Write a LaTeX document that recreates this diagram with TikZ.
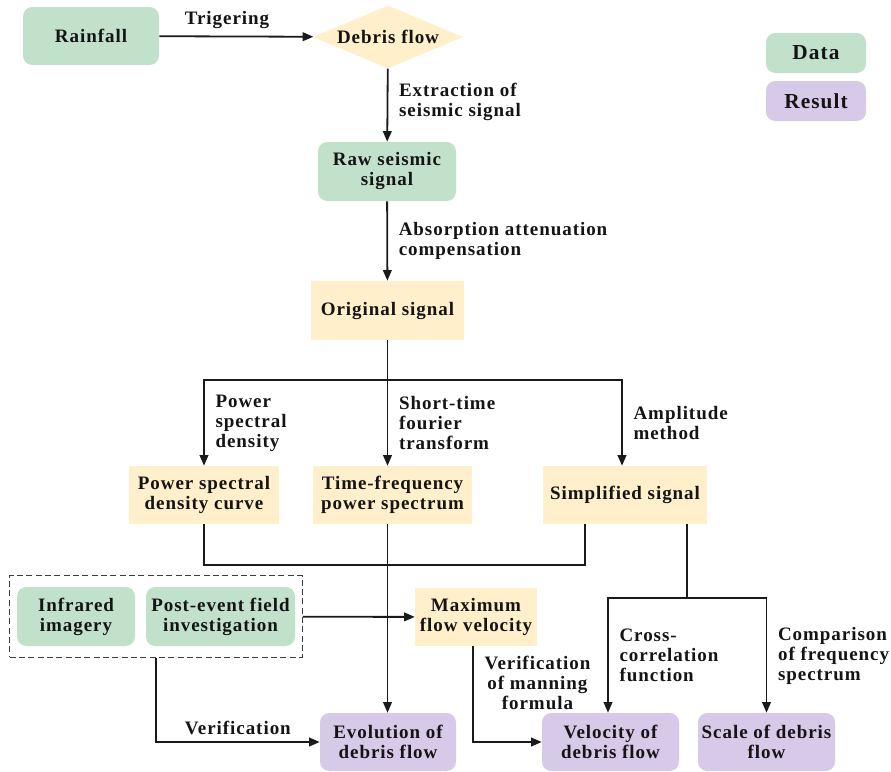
\documentclass[tikz,border=0pt]{standalone}
\usepackage{fontspec}
\setmainfont{Liberation Serif}[LetterSpace=5]
\usetikzlibrary{arrows.meta, positioning, shapes.geometric, fit, calc}
\definecolor{datafill}{HTML}{C2E1CB}
\definecolor{procfill}{HTML}{FFEFCA}
\definecolor{resfill}{HTML}{D7C9E8}
\definecolor{textcol}{HTML}{141414}
\definecolor{lineclr}{HTML}{1A1A1A}
\newcommand{\boxfont}{\bfseries\fontsize{14.25}{15}\selectfont}
\newcommand{\legfont}{\bfseries\fontsize{16}{18}\selectfont}
\tikzset{
  datablk/.style = {rectangle, rounded corners=7pt, fill=datafill, align=center,
                    font=\boxfont, text=textcol, inner sep=2pt},
  procblk/.style = {rectangle, fill=procfill, align=center,
                    font=\boxfont, text=textcol, inner sep=2pt},
  resblk/.style  = {rectangle, rounded corners=7pt, fill=resfill, align=center,
                    font=\boxfont, text=textcol, inner sep=2pt},
  eventblk/.style= {diamond, aspect=2.4, fill=procfill, font=\boxfont,
                    text=textcol, inner sep=0pt},
  grpbox/.style  = {rectangle, draw=lineclr!85, dash pattern=on 4.5pt off 2.5pt,
                    line width=1pt, inner xsep=5.25pt, inner ysep=8.25pt},
  lbl/.style     = {font=\boxfont, text=textcol, align=left, inner sep=0pt},
  flow/.style    = {-{Triangle[length=8pt,width=6.5pt]}, line width=1.35pt, draw=lineclr},
  link/.style    = {line width=1.35pt, draw=lineclr},
}

\begin{document}
\begin{tikzpicture}[x=0.75pt, y=-0.75pt]
        \useasboundingbox (0,0) rectangle (891,771);
        % blocks
        \node[datablk,  minimum width=102pt,    minimum height=43.5pt]  (rain)   at (91,36)      {Rainfall};
        \node[eventblk, minimum width=112.5pt,  minimum height=47.25pt] (debris) at (388,37)     {Debris flow};
        \node[datablk,  minimum width=103.5pt,  minimum height=44.25pt] (raw)    at (387,171.5)  {Raw seismic\\signal};
        \node[procblk,  minimum width=114.75pt, minimum height=44.25pt] (orig)   at (387.5,310.5){Original signal};
        \node[procblk,  minimum width=112.5pt,  minimum height=43.5pt]  (psd)    at (204,495)    {Power spectral\\density curve};
        \node[procblk,  minimum width=119.25pt, minimum height=43.5pt]  (tfps)   at (392.5,495)  {Time-frequency\\power spectrum};
        \node[procblk,  minimum width=123pt,    minimum height=43.5pt]  (simp)   at (625,495)    {Simplified signal};
        \node[datablk,  minimum width=88.5pt,   minimum height=44.25pt] (infra)  at (76,616.5)   {Infrared\\imagery};
        \node[datablk,  minimum width=111.75pt, minimum height=44.25pt] (post)   at (220.5,616.5){Post-event field\\investigation};
        \node[grpbox, fit=(infra)(post)] (field) {};
        \node[procblk,  minimum width=91.5pt,   minimum height=43.5pt]  (maxv)   at (476,617)    {Maximum\\flow velocity};
        \node[resblk,   minimum width=102pt,    minimum height=43.5pt]  (evo)    at (388,742)    {Evolution of\\debris flow};
        \node[resblk,   minimum width=102.75pt, minimum height=43.5pt]  (velo)   at (610.5,742)  {Velocity of\\debris flow};
        \node[resblk,   minimum width=102.75pt, minimum height=43.5pt]  (scale)  at (766.5,742)  {Scale of debris\\flow};
        % legend
        \node[datablk, font=\legfont, minimum width=75pt, minimum height=30pt] (keydata) at (816,53)  {Data};
        \node[resblk,  font=\legfont, minimum width=75pt, minimum height=30pt] (keyres)  at (816,101) {Result};
        % main chain
        \draw[flow] (rain) -- node[lbl, pos=0.44, above=5pt] {Trigering} (debris);
        \draw[flow] (debris) -- node[lbl, pos=0.45, right=8pt] {Extraction of\\seismic signal} (raw);
        \draw[flow] (raw) -- node[lbl, right=8pt] {Absorption attenuation\\compensation} (orig);
        % three branches
        \coordinate (br) at ($(orig.south)+(0,40)$);
        \draw[link] (orig) -- (br);
        \draw[flow] (br) -| node[lbl, pos=0.75, right=8pt] {Power\\spectral\\density} (psd);
        \draw[flow] (br) -- node[lbl, right=8pt] {Short-time\\fourier\\transform} (br |- tfps.north);
        \draw[flow] (br) -| node[lbl, pos=0.75, right=8pt] {Amplitude\\method} ($(simp.north)+(-3,0)$);
        \draw[link] (psd.south) -- ++(0,41) -| ($(simp.south)+(-40,0)$);
        \draw[flow] (br |- tfps.south) -- (br |- evo.north);
        % results
        \coordinate (jn) at ($(simp.south)+(62,74)$);
        \draw[link] ($(simp.south)+(62,0)$) -- (jn);
        \draw[flow] (jn) -| node[lbl, pos=0.75, right=8pt] {Cross-\\correlation\\function} ($(velo.north)+(-2.5,0)$);
        \draw[flow] (jn) -| node[lbl, pos=0.75, right=8pt] {Comparison\\of frequency\\spectrum} (scale);
        \draw[flow] (field) -- (maxv);
        \draw[flow] (field.south) |- node[lbl, pos=0.75, above=5pt] {Verification} (evo);
        \draw[flow] ($(maxv.south)+(-3,0)$) |- node[lbl, pos=0.19, right=8pt, align=center] {Verification\\of manning\\formula} (velo);
    \end{tikzpicture}
\end{document}
